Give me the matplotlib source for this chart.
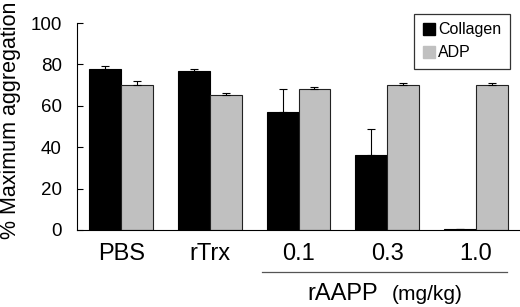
import matplotlib
matplotlib.use("Agg")
import matplotlib.pyplot as plt
import numpy as np
from matplotlib.lines import Line2D
from matplotlib.patches import Patch

plt.rcParams['font.family'] = ['Liberation Sans', 'DejaVu Sans']

categories = ["PBS", "rTrx", "0.1", "0.3", "1.0"]
collagen = [78, 77, 57, 36, 0.3]
collagen_err = [1.0, 1.0, 11, 13, 0]
adp = [70, 65, 68, 70, 70]
adp_err = [2.0, 1.0, 1.0, 1.0, 1.0]
yticks = [0, 20, 40, 60, 80, 100]

fig = plt.figure(figsize=(5.2, 3.07), dpi=100)
ax = fig.add_axes([77/520, 77/307, 443/520, 207/307])

x = np.arange(len(categories))
w = 0.36
ax.bar(x - w/2, collagen, w, color='black', edgecolor='black', linewidth=0.8,
       yerr=[np.zeros(len(collagen)), collagen_err], capsize=3,
       error_kw=dict(ecolor='black', elinewidth=0.8, capthick=0.8), label='Collagen')
ax.bar(x + w/2, adp, w, color='#c0c0c0', edgecolor='#222222', linewidth=0.8,
       yerr=[np.zeros(len(adp)), adp_err], capsize=3,
       error_kw=dict(ecolor='black', elinewidth=0.8, capthick=0.8), label='ADP')

ax.set_xlim(-0.5, 4.5)
ax.set_ylim(0, 100)
ax.set_yticks(yticks)
ax.tick_params(axis='y', labelsize=13.5, length=4, width=0.8, direction='in', pad=11)
ax.set_xticks(x)
ax.set_xticklabels(categories)
ax.tick_params(axis='x', labelsize=17, length=0, pad=9)
for s in ['top', 'right']:
    ax.spines[s].set_visible(False)
ax.spines['left'].set_linewidth(0.8)
ax.spines['bottom'].set_linewidth(0.8)

fig.text(11/520, 1 - 239/307, '% Maximum aggregation', fontsize=15.5, rotation=90,
         ha='center', va='bottom')

handles = [Patch(facecolor='black', edgecolor='black'),
           Patch(facecolor='#c0c0c0', edgecolor='#c0c0c0')]
leg = ax.legend(handles, ['Collagen', 'ADP'], loc='upper right',
                bbox_to_anchor=(433/443, 1.045), fontsize=11.5, frameon=True,
                fancybox=False, edgecolor='black', handlelength=0.75, handleheight=0.75,
                handletextpad=0.2, borderpad=0.55, labelspacing=0.5, borderaxespad=0)
leg.get_frame().set_linewidth(0.9)

# bracket under rAAPP groups
fig.add_artist(Line2D([262/520, 507/520], [1 - 272/307, 1 - 272/307],
                      color='#555555', linewidth=0.9))
fig.text(378/520, 1 - 294/307, 'rAAPP', fontsize=17, ha='right', va='center')
fig.text(392/520, 1 - 295/307, '(mg/kg)', fontsize=15, ha='left', va='center')

fig.savefig('out.png', dpi=100)
